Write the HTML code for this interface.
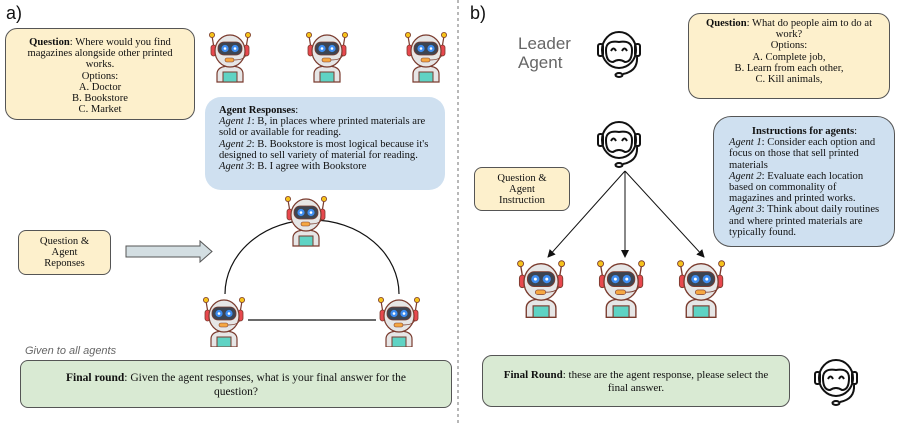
<!DOCTYPE html>
<html><head><meta charset="utf-8"><style>
body{margin:0;width:915px;height:425px;background:#fff;position:relative;overflow:hidden;font-family:"Liberation Serif",serif;color:#111}
.b{position:absolute;box-sizing:border-box;font-size:10.6px;line-height:11.2px}
.y{background:#fdf0cc;border:1px solid #555;border-radius:12px}
.c{text-align:center}
.lbl{position:absolute;font-family:"Liberation Sans",sans-serif}
svg{position:absolute;left:0;top:0}
</style></head><body>
<svg width="915" height="425" viewBox="0 0 915 425">
<defs>
<g id="r">
 <line x1="4" y1="6" x2="6" y2="18" stroke="#7a3b2e" stroke-width="1.2"/>
 <line x1="40" y1="6" x2="38" y2="18" stroke="#7a3b2e" stroke-width="1.2"/>
 <circle cx="4" cy="5" r="2.6" fill="#f6c21b" stroke="#7a3b2e" stroke-width=".8"/>
 <circle cx="40" cy="5" r="2.6" fill="#f6c21b" stroke="#7a3b2e" stroke-width=".8"/>
 <path d="M9 52 V44 Q9 36 22 36 Q35 36 35 44 V52 Z" fill="#e6e6e6" stroke="#7a3b2e" stroke-width="1.2"/>
 <rect x="15" y="42" width="14" height="10" fill="#5fd3c4" stroke="#7a3b2e" stroke-width="1"/>
 <rect x="3" y="15" width="5" height="11" rx="2.5" fill="#e8484e" stroke="#7a3b2e" stroke-width=".8"/>
 <rect x="36" y="15" width="5" height="11" rx="2.5" fill="#e8484e" stroke="#7a3b2e" stroke-width=".8"/>
 <ellipse cx="22" cy="21" rx="15" ry="16" fill="#e6e6e6" stroke="#7a3b2e" stroke-width="1.2"/>
 <rect x="10" y="12" width="24" height="13" rx="6" fill="#3d4552" stroke="#7a3b2e" stroke-width=".8"/>
 <circle cx="17" cy="18.5" r="3.6" fill="#3d8cf0"/><circle cx="17" cy="18.5" r="1.3" fill="#fff"/>
 <circle cx="27" cy="18.5" r="3.6" fill="#3d8cf0"/><circle cx="27" cy="18.5" r="1.3" fill="#fff"/>
 <path d="M38 25 Q36 30 26 30" fill="none" stroke="#7a3b2e" stroke-width=".8"/>
 <rect x="17" y="28" width="9" height="4" rx="2" fill="#f5a742" stroke="#7a3b2e" stroke-width=".6"/>
</g>
<g id="o" fill="none" stroke="#111" stroke-width="2">
 <ellipse cx="22" cy="20" rx="17" ry="18"/>
 <rect x="1" y="14" width="5" height="12" rx="2"/>
 <rect x="38" y="14" width="5" height="12" rx="2"/>
 <path d="M9 20 Q9 10 22 12 Q35 10 35 20 Q35 32 28 32 Q22 28 16 32 Q9 32 9 20 Z"/>
 <path d="M14 21 Q16.5 16 19 21 M25 21 Q27.5 16 30 21"/>
 <path d="M40 27 Q41 41 26 44"/><ellipse cx="22" cy="45" rx="3.5" ry="2"/>
</g>
<marker id="ah" markerWidth="8" markerHeight="8" refX="7" refY="4" orient="auto" markerUnits="userSpaceOnUse"><path d="M0,0 L8,4 L0,8 Z" fill="#111"/></marker>
</defs>
<line x1="458" y1="0" x2="458" y2="425" stroke="#888" stroke-width="1.2" stroke-dasharray="3,3"/>
<use href="#r" x="208" y="30"/><use href="#r" x="305" y="30"/><use href="#r" x="404" y="30"/>
<path d="M225,294 A87,74 0 0 1 399,294" fill="none" stroke="#111" stroke-width="1.2"/>
<line x1="248" y1="320" x2="376" y2="320" stroke="#111" stroke-width="1.2"/>
<svg x="0" y="0" width="915" height="248" overflow="hidden"><use href="#r" x="284" y="194"/></svg>
<svg x="0" y="0" width="915" height="347" overflow="hidden"><use href="#r" x="202" y="295"/><use href="#r" x="377" y="295"/></svg>
<path d="M126,246 H200 V241 L212,251.5 L200,262 V257 H126 Z" fill="#d3dee2" stroke="#555" stroke-width="1"/>
<use href="#o" x="597" y="30"/>
<use href="#o" x="597" y="120"/>
<line x1="625" y1="171" x2="548" y2="257" stroke="#111" marker-end="url(#ah)"/>
<line x1="625" y1="171" x2="625" y2="257" stroke="#111" marker-end="url(#ah)"/>
<line x1="625" y1="171" x2="704" y2="257" stroke="#111" marker-end="url(#ah)"/>
<g transform="translate(516,258) scale(1.14)"><use href="#r"/></g>
<g transform="translate(596,258) scale(1.14)"><use href="#r"/></g>
<g transform="translate(676,258) scale(1.14)"><use href="#r"/></g>
<use href="#o" x="814" y="358"/>
</svg>
<div class="lbl" style="left:6px;top:3px;font-size:18px">a)</div>
<div class="lbl" style="left:470px;top:3px;font-size:18px">b)</div>
<div class="b y c" style="left:5px;top:28px;width:190px;height:92px;padding:8px 10px"><b>Question</b>: Where would you find magazines alongside other printed works.<br>Options:<br>A. Doctor<br>B. Bookstore<br>C. Market</div>
<div class="b" style="left:205px;top:97px;width:240px;height:93px;background:#cfe0f0;border-radius:16px;padding:8px 14px 0 14px"><b>Agent Responses</b>:<br><i>Agent 1</i>: B, in places where printed materials are sold or available for reading.<br><i>Agent 2</i>: B. Bookstore is most logical because it's designed to sell variety of material for reading.<br><i>Agent 3</i>: B. I agree with Bookstore</div>
<div class="b y c" style="left:18px;top:230px;width:93px;height:45px;padding:5px 4px;border-radius:8px">Question &amp;<br>Agent<br>Reponses</div>
<div class="lbl" style="left:25px;top:345px;font-size:11px;font-style:italic;color:#666">Given to all agents</div>
<div class="b c" style="left:20px;top:360px;width:432px;height:48px;background:#d9ead3;border:1px solid #555;border-radius:8px;padding:11px 26px;font-size:11.5px;line-height:13.5px"><b>Final round</b>: Given the agent responses, what is your final answer for the question?</div>
<div class="lbl" style="left:518px;top:34px;font-size:17px;color:#666;line-height:19px">Leader<br>Agent</div>
<div class="b y c" style="left:688px;top:13px;width:202px;height:86px;padding:4px 14px"><b>Question</b>: What do people aim to do at work?<br>Options:<br>A. Complete job,<br>B. Learn from each other,<br>C. Kill animals,</div>
<div class="b y c" style="left:474px;top:167px;width:96px;height:44px;padding:5px 4px;border-radius:8px">Question &amp;<br>Agent<br>Instruction</div>
<div class="b" style="left:713px;top:116px;width:182px;height:131px;background:#cfe0f0;border:1px solid #555;border-radius:18px;padding:9px 14px 0 15px"><div style="text-align:center"><b>Instructions for agents</b>:</div><i>Agent 1</i>: Consider each option and focus on those that sell printed materials<br><i>Agent 2</i>: Evaluate each location based on commonality of magazines and printed works.<br><i>Agent 3</i>: Think about daily routines and where printed materials are typically found.</div>
<div class="b c" style="left:482px;top:355px;width:308px;height:52px;background:#d9ead3;border:1px solid #555;border-radius:10px;padding:13px 20px;font-size:11px;line-height:12.5px"><b>Final Round</b>: these are the agent response, please select the final answer.</div>
</body></html>
